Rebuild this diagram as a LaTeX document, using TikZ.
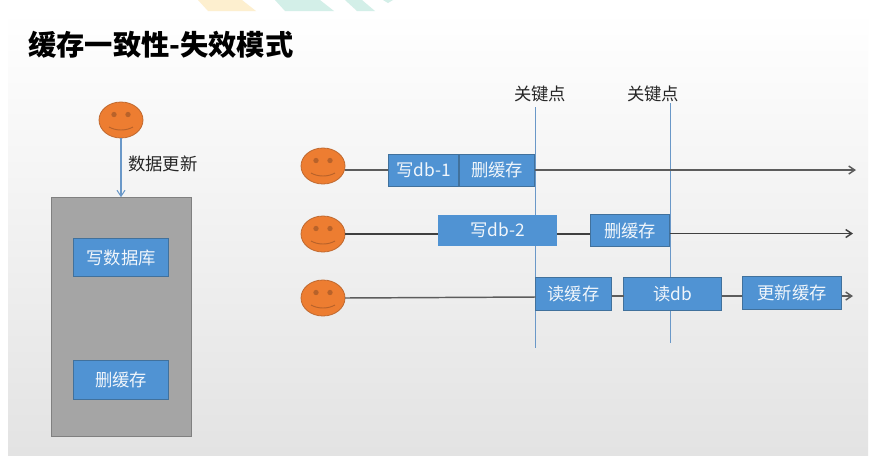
\documentclass[tikz,border=0pt]{standalone}
\usepackage{fontspec}
\setmainfont{Noto Sans CJK SC}
\usetikzlibrary{shapes.geometric,arrows.meta}
\definecolor{boxblue}{HTML}{5093D3}
\definecolor{boxedge}{HTML}{41719C}
\definecolor{faceorange}{HTML}{ED7D31}
\definecolor{faceedge}{HTML}{C0692F}
\definecolor{mouthdark}{HTML}{B8622A}
\definecolor{wallgray}{HTML}{A5A5A5}
\definecolor{lineblue}{HTML}{6A98C8}
\definecolor{linkgray}{HTML}{5C5C5C}
\definecolor{stripyellow}{HTML}{FDEFCF}
\definecolor{stripteal}{HTML}{D3EFE8}
\tikzset{
  dbbox/.style={draw=boxedge,fill=boxblue,text=white!92!boxblue,line width=0.7pt,
    inner sep=0pt,outer sep=0pt,font=\fontsize{13pt}{15pt}\selectfont},
  smiley/.style={ellipse,draw=faceedge,fill=faceorange,line width=0.6pt,
    minimum width=33pt,minimum height=27pt,inner sep=0pt,outer sep=0pt},
  keylabel/.style={font=\fontsize{13pt}{15pt}\selectfont,text=black!85,inner sep=0pt},
  link/.style={draw=linkgray,line width=1.1pt},
  keyline/.style={draw=lineblue,line width=1pt}
}
\begin{document}
\begin{tikzpicture}[x=0.75pt,y=-0.75pt,>={Straight Barb[length=4.5pt,width=6pt]}]
  \useasboundingbox (0,0) rectangle (875,455);

  \fill[white] (0,0) rectangle (875,455);
  \shade[top color=white,middle color=white!96!black,bottom color=white!89!black]
    (8,11) rectangle (868,455);

  % strip at the top edge
  \fill[stripyellow] (198,0) -- (208,11) -- (256,11) -- (242,0) -- cycle;
  \fill[stripteal] (275,0) -- (285,11) -- (334,11) -- (320,0) -- cycle;
  \fill[stripteal] (345,0) -- (357,11) -- (375,11) -- (362,0) -- cycle;
  \fill[stripteal] (383,0) -- (388,3) -- (393,0) -- cycle;

  \node[anchor=west,inner sep=0pt,font=\fontsize{21.2pt}{25pt}\selectfont\bfseries] (title) at (28,45) {缓存一致性-失效模式};

  \coordinate (key1top) at (535.3,107);
  \coordinate (key1end) at (535.3,348);
  \coordinate (key2top) at (670.3,103);
  \coordinate (key2end) at (670.3,343);
  \node[keylabel] (key1) at (540,94) {关键点};
  \node[keylabel] (key2) at (653,94) {关键点};
  \draw[keyline] (key1top) -- (key1end);
  \draw[keyline] (key2top) -- (key2end);

  \foreach \name/\cx/\cy in {user0/121/120,user1/323/166,user2/323/234,user3/323/298}{
    \node[smiley] (\name) at (\cx,\cy) {};
    \fill[mouthdark] (\cx-7,\cy-5.5) circle (2pt);
    \fill[mouthdark] (\cx+7,\cy-5.5) circle (2pt);
    \draw[mouthdark,line width=0.7pt] (\cx-12,\cy+7) .. controls (\cx-5,\cy+11) and (\cx+5,\cy+11) .. (\cx+12,\cy+7);
  }

  % left column
  \node[draw=black!50,fill=wallgray,minimum width=105pt,minimum height=179pt,inner sep=0pt,outer sep=0pt] (wall) at (121.5,316.5) {};
  \node[dbbox,minimum width=71.5pt,minimum height=29pt] (leftwrite) at (121,257.5) {写数据库};
  \node[dbbox,minimum width=71.5pt,minimum height=29.5pt] (leftdel) at (121,380) {删缓存};
  \draw[->,lineblue,line width=0.8pt] (user0) -- (wall.north -| user0);
  \node[keylabel,anchor=west] (update) at (128,164) {数据更新};

  % first row
  \node[dbbox,minimum width=53pt,minimum height=24pt] (write1) at (423.5,170) {写db-1};
  \node[dbbox,minimum width=56.5pt,minimum height=24pt] (del1) at (497,170) {删缓存};
  \coordinate (end1) at (856,170);
  \draw[link] (user1.east |- write1) -- (write1);
  \draw[->,link] (del1) -- (end1);

  % second row
  \node[dbbox,draw=boxblue,minimum width=89pt,minimum height=23pt] (write2) at (497.5,230.5) {写db-2};
  \node[dbbox,minimum width=59.5pt,minimum height=24.5pt] (del2) at (630,230.5) {删缓存};
  \coordinate (end2) at (853,233.5);
  \draw[link,black!75] (user2.east) -- (write2.west |- user2);
  \draw[link,black!75] (write2.east |- 0,234) -- (del2.west |- 0,234);
  \draw[->,link,black!75] (del2.east |- end2) -- (end2);

  % third row
  \node[dbbox,minimum width=57pt,minimum height=25pt] (read1) at (573.5,294) {读缓存};
  \node[dbbox,minimum width=73.5pt,minimum height=25pt] (read2) at (672.5,294) {读db};
  \node[dbbox,minimum width=74.5pt,minimum height=25pt] (fill3) at (792,293) {更新缓存};
  \coordinate (end3) at (853,296);
  \draw[link] (user3.east) -- (read1.west |- 0,297);
  \draw[link] (read1.east |- 0,296) -- (read2.west |- 0,296);
  \draw[link] (read2.east |- 0,296) -- (fill3.west |- 0,296);
  \draw[->,link] (fill3.east |- end3) -- (end3);
\end{tikzpicture}
\end{document}
